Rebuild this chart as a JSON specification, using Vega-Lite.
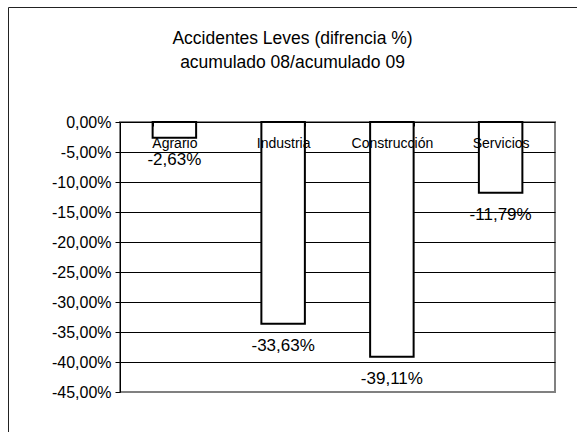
{
  "$schema": "https://vega.github.io/schema/vega-lite/v6.json",
  "width": 435,
  "height": 270,
  "autosize": {"type": "none"},
  "padding": {"left": 120, "top": 122, "right": 22, "bottom": 40},
  "background": "white",
  "title": {
    "text": ["Accidentes Leves (difrencia %)", "acumulado 08/acumulado 09"],
    "font": "Liberation Sans",
    "fontSize": 17.5,
    "fontWeight": "normal",
    "color": "black",
    "lineHeight": 24,
    "anchor": "middle",
    "dx": -45,
    "offset": -65
  },
  "data": {
    "values": [
      {"sector": "Agrario", "value": -0.0263},
      {"sector": "Industria", "value": -0.3363},
      {"sector": "Construcción", "value": -0.3911},
      {"sector": "Servicios", "value": -0.1179}
    ]
  },
  "encoding": {
    "x": {
      "field": "sector",
      "type": "nominal",
      "sort": null,
      "scale": {"paddingInner": 0.6, "paddingOuter": 0.3},
      "axis": {
        "orient": "top",
        "title": null,
        "domain": false,
        "zindex": 1,
        "tickBand": "extent",
        "ticks": true,
        "tickSize": -4,
        "tickColor": "black",
        "labelAngle": 0,
        "labelFont": "Liberation Sans",
        "labelFontSize": 14,
        "labelColor": "black",
        "labelBaseline": "middle",
        "labelPadding": -17
      }
    },
    "y": {
      "field": "value",
      "type": "quantitative",
      "scale": {"domain": [-0.45, 0], "nice": false},
      "axis": {
        "title": null,
        "values": [0, -0.05, -0.1, -0.15, -0.2, -0.25, -0.3, -0.35, -0.4, -0.45],
        "format": ".2%",
        "grid": true,
        "gridColor": {"condition": {"test": "datum.value < -0.449", "value": "#808080"}, "value": "black"},
        "gridOpacity": 1,
        "gridWidth": 1,
        "domainColor": "black",
        "domainWidth": 1,
        "tickColor": "black",
        "tickSize": 5,
        "labelFont": "Liberation Sans",
        "labelFontSize": 16,
        "labelColor": "black",
        "labelPadding": 4
      }
    }
  },
  "layer": [
    {
      "mark": {"type": "bar", "stroke": "black", "strokeWidth": 2, "opacity": 1},
      "encoding": {
        "color": {
          "datum": "marco",
          "scale": {"range": ["white"]},
          "legend": {
            "orient": "none",
            "legendX": -112,
            "legendY": -115,
            "padding": 360,
            "strokeColor": "#222222",
            "title": null,
            "symbolOpacity": 0,
            "labelOpacity": 0
          }
        }
      }
    },
    {
      "mark": {"type": "text", "font": "Liberation Sans", "fontSize": 17, "color": "black", "baseline": "middle", "dy": 22},
      "encoding": {
        "text": {"field": "value", "type": "quantitative", "format": ".2%"}
      }
    }
  ],
  "config": {
    "locale": {
      "number": {"decimal": ",", "thousands": ".", "grouping": [3], "currency": ["", " €"], "minus": "-"}
    },
    "view": {"stroke": "#808080", "strokeWidth": 2}
  }
}
